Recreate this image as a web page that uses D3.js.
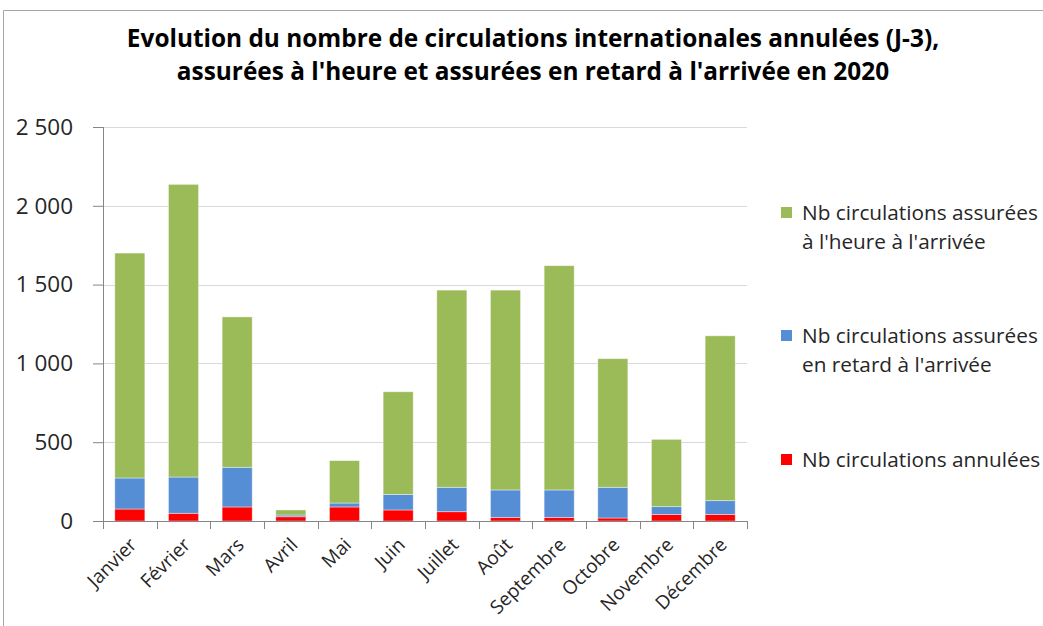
<!DOCTYPE html>
<html><head><meta charset="utf-8">
<script src="https://cdn.jsdelivr.net/npm/d3@7"></script>
<style>body{margin:0;background:#fff}svg{display:block}text{font-family:"Open Sans","Noto Sans",sans-serif}</style>
</head><body><svg id="c" width="1043" height="626"></svg>
<script>
const months = ["Janvier","Février","Mars","Avril","Mai","Juin","Juillet","Août","Septembre","Octobre","Novembre","Décembre"];
const annulees = [76, 49, 89, 27, 89, 70, 59, 23, 23, 19, 42, 42];
const retard   = [197, 230, 252, 11, 25, 99, 155, 174, 174, 195, 49, 87];
const heure    = [1427, 1857, 954, 32, 269, 651, 1251, 1268, 1423, 816, 427, 1046];
const yTicks = [0, 500, 1000, 1500, 2000, 2500];
const seriesNames = ["Nb circulations annulées", "Nb circulations assurées en retard à l'arrivée", "Nb circulations assurées à l'heure à l'arrivée"];
const titleLines = ["Evolution du nombre de circulations internationales annulées (J-3),", "assurées à l'heure et assurées en retard à l'arrivée en 2020"];

const colors = ["#FF0000", "#558ED5", "#9BBB59"];
const svg = d3.select("#c");

// frame
svg.append("path").attr("d","M3.5,626 L3.5,10.5 L1043,10.5").attr("fill","none").attr("stroke","#a6a6a6");

function fit(sel, w) {
  const fs = parseFloat(sel.attr("font-size"));
  const len = sel.node().getComputedTextLength();
  sel.attr("font-size", fs * w / len);
}

// title
const t1 = svg.append("text").attr("x",533).attr("y",47).attr("text-anchor","middle").attr("font-weight","bold").attr("font-size",20).attr("fill","#000").text(titleLines[0]);
fit(t1, 813);
const t2 = svg.append("text").attr("x",533).attr("y",80).attr("text-anchor","middle").attr("font-weight","bold").attr("font-size",20).attr("fill","#000").text(titleLines[1]);
t2.attr("font-size", t1.attr("font-size"));

const x = d3.scaleBand().domain(months).range([103, 747]).paddingInner(0.44).paddingOuter(0.22);
const y = d3.scaleLinear().domain([0, 2500]).range([521, 127]);

// grid
svg.append("g").selectAll("line").data(yTicks.slice(1)).join("line")
  .attr("x1",103).attr("x2",747).attr("y1",d=>Math.round(y(d))+0.5).attr("y2",d=>Math.round(y(d))+0.5)
  .attr("stroke","#d9d9d9");

// stacked data
const data = months.map((m,i)=>({m, a: annulees[i], r: retard[i], h: heure[i]}));
const stack = d3.stack().keys(["a","r","h"])(data);
svg.append("g").selectAll("g").data(stack).join("g").attr("fill",(d,i)=>colors[i])
  .selectAll("rect").data(d=>d).join("rect")
  .attr("x", d=>x(d.data.m)).attr("width", x.bandwidth())
  .attr("y", d=>y(d[1])).attr("height", d=>y(d[0])-y(d[1]))
  .attr("stroke","#ffffff").attr("stroke-opacity",0.5).attr("stroke-width",0.8);

// y axis
const ya = d3.axisLeft(y).tickValues(yTicks).tickSize(10).tickPadding(20)
  .tickFormat(d=>d3.format(",")(d).replace(",", " "));
const gy = svg.append("g").attr("transform","translate(103,0)").call(ya);
gy.select(".domain").attr("stroke","#868686").attr("d","M0.5,127V521");
gy.selectAll(".tick line").attr("stroke","#868686");
gy.selectAll(".tick text").attr("font-size",22.5).attr("fill","#262626").attr("font-family","'Open Sans',sans-serif");

// x axis
const bounds = d3.range(13).map(i=>103 + i*(644/12));
svg.append("line").attr("x1",93).attr("x2",747).attr("y1",521.5).attr("y2",521.5).attr("stroke","#868686");
svg.append("g").selectAll("line").data(bounds).join("line")
  .attr("x1",d=>Math.round(d)+0.5).attr("x2",d=>Math.round(d)+0.5).attr("y1",521).attr("y2",529).attr("stroke","#868686");
svg.append("g").selectAll("text").data(months).join("text")
  .attr("transform", d=>`translate(${x(d)+x.bandwidth()/2+8},${546}) rotate(-45)`)
  .attr("text-anchor","end").attr("font-size",19).attr("fill","#262626").text(d=>d);

// legend
const legend = [
  {c: colors[2], lines: ["Nb circulations assurées", "à l'heure à l'arrivée"], y: 220},
  {c: colors[1], lines: ["Nb circulations assurées", "en retard à l'arrivée"], y: 343},
  {c: colors[0], lines: ["Nb circulations annulées"], y: 467}
];
let lfs = 18;
legend.forEach((l,k)=>{
  svg.append("rect").attr("x",781).attr("y",l.y-13).attr("width",11).attr("height",11).attr("fill",l.c);
  l.lines.forEach((s,j)=>{
    const t = svg.append("text").attr("x",802).attr("y",l.y + j*29).attr("font-size",lfs).attr("fill","#262626").text(s);
    if (k===0 && j===0) { fit(t, 236); lfs = parseFloat(t.attr("font-size")); }
  });
});
</script></body></html>
